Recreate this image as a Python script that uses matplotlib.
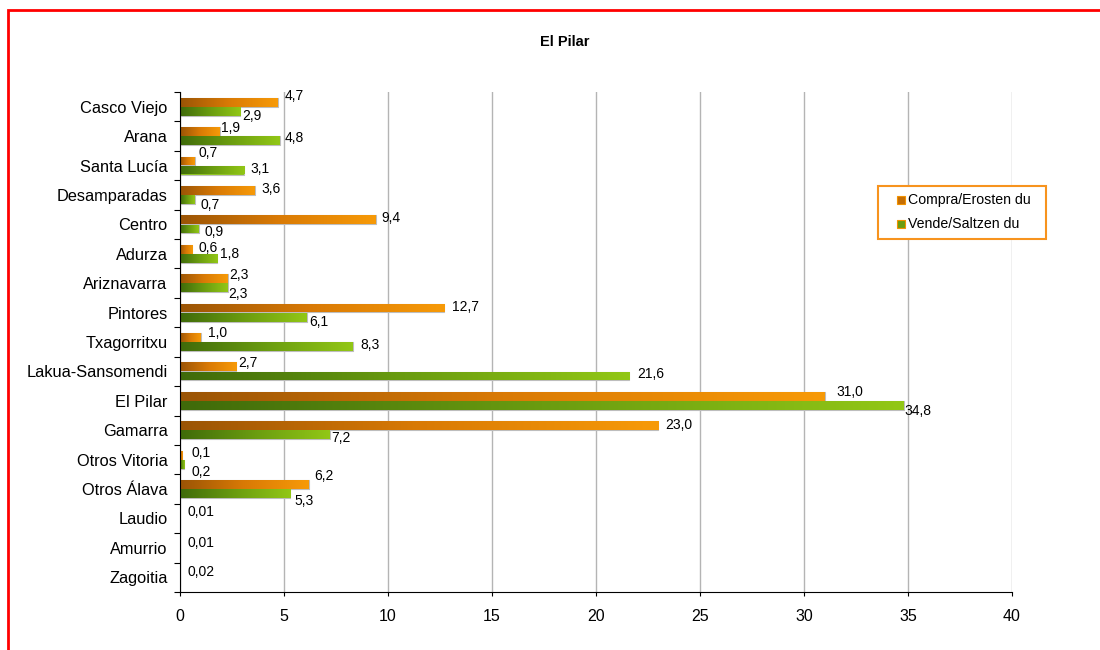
import matplotlib
matplotlib.use("Agg")
import matplotlib.pyplot as plt
import numpy as np
from matplotlib.colors import LinearSegmentedColormap
from matplotlib.patches import Rectangle

plt.rcParams['font.family'] = ['Liberation Sans', 'DejaVu Sans']

barrios = ['Casco Viejo', 'Arana', 'Santa Lucía', 'Desamparadas', 'Centro', 'Adurza',
           'Ariznavarra', 'Pintores', 'Txagorritxu', 'Lakua-Sansomendi', 'El Pilar',
           'Gamarra', 'Otros Vitoria', 'Otros Álava', 'Laudio', 'Amurrio', 'Zagoitia']
compra = [4.7, 1.9, 0.7, 3.6, 9.4, 0.6, 2.3, 12.7, 1.0, 2.7, 31.0, 23.0, 0.1, 6.2, None, None, None]
vende = [2.9, 4.8, 3.1, 0.7, 0.9, 1.8, 2.3, 6.1, 8.3, 21.6, 34.8, 7.2, 0.2, 5.3, 0.01, 0.01, 0.02]
series_names = ['Compra/Erosten du', 'Vende/Saltzen du']

# label offsets in pixels (x from bar end, y from category centre), as placed in the original
compra_dx = [7, 1, 4, 7, 6, 6, 1, 8, 7, 2, 12, 7, 9, 5, 0, 0, 0]
compra_dy = [-10.7, -8, -12.5, -6, -6.4, -5.8, -8, -5.6, -9, -8.4, -9, -5.3, -6.7, -13, 0, 0, 0]
vende_dx = [2, 5, 6, 6, 6, 3, 0, 2, 8, 8, 1, 1, 7, 4, 7, 7, 7]
vende_dy = [9.3, 2, 3.5, 10, 7.6, 0, 11, 9.4, 3, 2.6, 10, 7.7, 12.3, 12, -6.5, -5, -5]

cmap_or = LinearSegmentedColormap.from_list('or', ['#9a5406', '#d97a05', '#f79a08'])
cmap_gr = LinearSegmentedColormap.from_list('gr', ['#3f6a0a', '#6a9c10', '#92c716'])


def fmt(v):
    s = '{:.2f}'.format(v) if v < 0.05 else '{:.1f}'.format(v)
    return s.replace('.', ',')


W, H = 1100, 650
fig = plt.figure(figsize=(11, 6.5), dpi=100)
ax = fig.add_axes([180 / W, 58 / H, 832 / W, 500 / H])

h = 0.3
grad = np.linspace(0, 1, 256).reshape(1, -1)
y = np.arange(len(barrios))
px = 72 / fig.dpi

for i in range(len(barrios)):
    for val, off, cmap, face, dx, dy in (
            (compra[i], -0.155, cmap_or, '#f39200', compra_dx[i], compra_dy[i]),
            (vende[i], 0.155, cmap_gr, '#8cc41a', vende_dx[i], vende_dy[i])):
        if val is None:
            continue
        bars = ax.barh(i + off, val, height=h, color=face, edgecolor='#bdbdbd',
                       linewidth=0.8, zorder=3)
        p = bars.patches[0]
        if val > 0.05:
            im = ax.imshow(grad, cmap=cmap, aspect='auto', zorder=3.5,
                           extent=(0, val, i + off + h / 2, i + off - h / 2))
            im.set_clip_path(p)
        ax.annotate(fmt(val), xy=(val, i), xytext=(dx * px, -dy * px),
                    textcoords='offset points', fontsize=10, va='center',
                    ha='left', zorder=5)

ax.set_xlim(0, 40)
ax.set_ylim(len(barrios) - 0.5, -0.5)
ax.set_xticks(np.arange(0, 41, 5))
ax.tick_params(axis='x', labelsize=11.5, length=3, pad=9)
ax.set_yticks(np.arange(-0.5, len(barrios), 1))
ax.set_yticklabels([])
ax.set_yticks(y, minor=True)
ax.set_yticklabels(barrios, minor=True)
ax.tick_params(axis='y', which='minor', length=0, labelsize=11.8, pad=9)
ax.tick_params(axis='y', which='major', length=4)
ax.grid(axis='x', color='#b4b4b4', linewidth=1, zorder=0)
for s in ['top', 'right']:
    ax.spines[s].set_visible(False)
ax.spines['left'].set_zorder(6)

fig.text(565 / W, 1 - 42 / H, 'El Pilar', fontsize=10.5, fontweight='bold',
         ha='center', va='center')

# legend box drawn by hand to match the original's proportions
fig.add_artist(Rectangle((878 / W, 1 - 239 / H), 168 / W, 53 / H, transform=fig.transFigure,
                         facecolor='white', edgecolor='#f7931e', linewidth=1.5, zorder=10))
for k, (name, col) in enumerate(zip(series_names, ['#c46e05', '#6a9c10'])):
    yc = 200 + 24 * k
    fig.add_artist(Rectangle((897 / W, 1 - (yc + 4) / H), 8 / W, 8 / H,
                             transform=fig.transFigure, facecolor=col,
                             edgecolor='#f39200', linewidth=0.8, zorder=11))
    fig.text(908 / W, 1 - yc / H, name, fontsize=10.2, va='center', ha='left', zorder=11)

fig.add_artist(Rectangle((8 / W, -0.2), 1.2, 1.2 - 10 / H, transform=fig.transFigure,
                         fill=False, edgecolor='red', linewidth=2))

fig.savefig('out.png', dpi=100)
